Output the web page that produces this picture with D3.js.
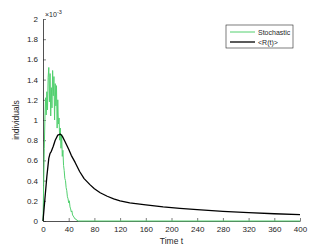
<!DOCTYPE html>
<html>
<head>
<meta charset="utf-8">
<script src="https://cdn.jsdelivr.net/npm/d3@7"></script>
<style>
  body { margin: 0; background: #fff; }
  text { font-family: 'Liberation Sans', Arial, sans-serif; fill: #262626; }
</style>
</head>
<body>
<svg id="chart" width="332" height="249"></svg>
<script>
const font = 'Liberation Sans'
const axisColor = '#262626'
const greenColor = '#52d06f'

// stochastic run, values in units of 1e-3
const stochT = d3.range(0, 56).concat([400])
const stochV = [0, 0.35, 0.72, 1.02, 1.22, 1.05, 1.28, 1.1, 1.42, 1.52,
  1.18, 1.46, 1.04, 1.32, 1.12, 1.49, 1.24, 1.43, 1.0, 1.36,
  1.14, 1.34, 0.92, 1.2, 0.96, 1.02, 0.8, 0.92, 0.72, 0.86,
  0.64, 0.7, 0.55, 0.5, 0.42, 0.4, 0.33, 0.3, 0.24, 0.22,
  0.18, 0.2, 0.14, 0.12, 0.09, 0.1, 0.06, 0.05, 0.04, 0.03,
  0.02, 0.02, 0.01, 0.01, 0, 0, 0]

// mean <R(t)>, units of 1e-3
const meanT = [0, 3, 6, 9, 11, 13, 16, 19, 23, 27, 30, 34, 40, 44, 50, 57, 64, 73, 80, 89, 100,
  110, 120, 135, 160, 187, 213, 240, 280, 320, 360, 400]
const meanV = [0, 0.22, 0.44, 0.62, 0.67, 0.69, 0.74, 0.8, 0.85, 0.86, 0.84, 0.79, 0.71, 0.65, 0.58, 0.49, 0.42, 0.36, 0.32, 0.28, 0.245,
  0.22, 0.2, 0.18, 0.16, 0.14, 0.125, 0.112, 0.095, 0.082, 0.072, 0.063]

const xTicks = d3.range(0, 401, 40)
const yTicks = [0, 0.2, 0.4, 0.6, 0.8, 1, 1.2, 1.4, 1.6, 1.8, 2]
const legendLabels = ['Stochastic', '<R(t)>']

const svg = d3.select('#chart')
const x = d3.scaleLinear().domain([0, 400]).range([43, 300])
const y = d3.scaleLinear().domain([0, 2]).range([221, 19])

const xAxis = svg.append('g').attr('transform', `translate(0,${y(0)})`)
  .call(d3.axisBottom(x).tickValues(xTicks).tickSizeInner(-3).tickSizeOuter(0).tickPadding(5))
const yAxis = svg.append('g').attr('transform', `translate(${x(0)},0)`)
  .call(d3.axisLeft(y).tickValues(yTicks).tickFormat(d3.format('~g')).tickSizeInner(-3).tickSizeOuter(0).tickPadding(5))

for (const ax of [xAxis, yAxis]) {
  ax.select('.domain').attr('stroke', axisColor).attr('stroke-width', 0.8)
  ax.selectAll('.tick line').attr('stroke', axisColor).attr('stroke-width', 0.6)
  ax.selectAll('.tick text').attr('font-family', font).attr('font-size', 8).style('fill', axisColor)
}

const line = (ts, vs) => d3.line().x((d, i) => x(ts[i])).y((d) => y(d))(vs)

svg.append('path').attr('d', line(stochT, stochV))
  .attr('fill', 'none').attr('stroke', greenColor).attr('stroke-width', 1).attr('stroke-linejoin', 'round')
svg.append('path').attr('d', line(meanT, meanV))
  .attr('fill', 'none').attr('stroke', '#000').attr('stroke-width', 1.3).attr('stroke-linejoin', 'round')

// exponent label
const ex = svg.append('text').attr('x', 45).attr('y', 17).attr('font-size', 7)
ex.append('tspan').text('×10')
ex.append('tspan').attr('dy', -3).attr('font-size', 5.5).text('-3')

svg.append('text').attr('transform', `translate(19,${(y(0) + y(2)) / 2}) rotate(-90)`)
  .attr('text-anchor', 'middle').attr('font-size', 8.5).text('individuals')
svg.append('text').attr('x', (x(0) + x(400)) / 2).attr('y', 244)
  .attr('text-anchor', 'middle').attr('font-size', 8.5).text('Time t')

// legend
const lg = svg.append('g').attr('transform', 'translate(226,25)')
lg.append('rect').attr('width', 67).attr('height', 23).attr('fill', '#fff')
  .attr('stroke', axisColor).attr('stroke-width', 0.6)
const colors = [greenColor, '#000']
legendLabels.forEach((lab, i) => {
  lg.append('line').attr('x1', 4).attr('x2', 29).attr('y1', 7 + i * 10).attr('y2', 7 + i * 10)
    .attr('stroke', colors[i]).attr('stroke-width', i ? 1.3 : 1)
  lg.append('text').attr('x', 32).attr('y', 9.5 + i * 10).attr('font-size', 7).text(lab)
})
</script>
</body>
</html>
